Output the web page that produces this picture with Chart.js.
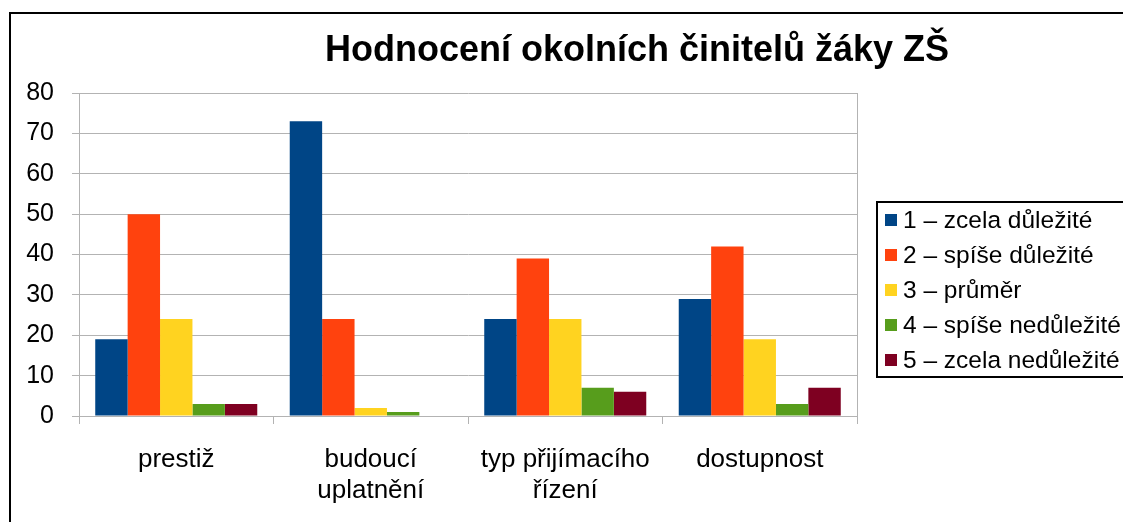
<!DOCTYPE html>
<html>
<head>
<meta charset="utf-8">
<script src="https://cdn.jsdelivr.net/npm/chart.js@4/dist/chart.umd.min.js"></script>
<style>
  body { margin: 0; background: #fff; overflow: hidden; }
  #wrap { position: relative; width: 1123px; height: 522px; overflow: hidden; }
  #frame { position: absolute; left: 9px; top: 12px; width: 2000px; height: 2000px;
           border-left: 2px solid #000; border-top: 2px solid #000; }
  canvas { position: absolute; left: 0; top: 0; }
</style>
</head>
<body>
<div id="wrap">
  <div id="frame"></div>
  <canvas id="chart" width="1123" height="522"></canvas>
</div>
<script>
// data
const TITLE = 'Hodnocení okolních činitelů žáky ZŠ';
const categories = ['prestiž', ['budoucí', 'uplatnění'], ['typ přijímacího', 'řízení'], 'dostupnost'];
const seriesNames = ['1 – zcela důležité', '2 – spíše důležité', '3 – průměr', '4 – spíše nedůležité', '5 – zcela nedůležité'];
const zcelaDulezite = [19, 73, 24, 29];
const spiseDulezite = [50, 24, 39, 42];
const prumer = [24, 2, 24, 19];
const spiseNedulezite = [3, 1, 7, 3];
const zcelaNedulezite = [3, 0, 6, 7];
const yTicks = [0, 10, 20, 30, 40, 50, 60, 70, 80];

const colors = ['#004586', '#ff420e', '#ffd320', '#579d1c', '#7e0021'];
const GRID = '#b3b3b3';
const FONT = '"Liberation Sans", Arial, sans-serif';

// titulek a legenda kreslene rucne (pozice jako v originalu)
const decorPlugin = {
  id: 'decor',
  afterDraw(chart) {
    const ctx = chart.ctx;
    ctx.save();
    ctx.fillStyle = '#000';
    ctx.font = 'bold 36px ' + FONT;
    ctx.textAlign = 'center';
    ctx.textBaseline = 'alphabetic';
    ctx.fillText(TITLE, 637, 61);

    // legenda
    ctx.lineWidth = 2;
    ctx.strokeStyle = '#000';
    ctx.strokeRect(877, 202, 300, 175);
    ctx.font = '24.5px ' + FONT;
    ctx.textAlign = 'left';
    ctx.textBaseline = 'middle';
    chart.data.datasets.forEach((ds, i) => {
      const cy = 220 + i * 35;
      ctx.fillStyle = ds.backgroundColor;
      ctx.fillRect(885, cy - 6, 12, 12);
      ctx.fillStyle = '#000';
      ctx.fillText(ds.label, 903, cy + 1);
    });
    ctx.restore();
  }
};

const values = [zcelaDulezite, spiseDulezite, prumer, spiseNedulezite, zcelaNedulezite];

new Chart(document.getElementById('chart'), {
  type: 'bar',
  data: {
    labels: categories,
    datasets: values.map((v, i) => ({
      label: seriesNames[i],
      data: v,
      backgroundColor: colors[i],
      borderWidth: 0
    }))
  },
  options: {
    responsive: false,
    devicePixelRatio: 1,
    animation: false,
    categoryPercentage: 0.833,
    barPercentage: 1,
    layout: { padding: { left: 0, right: 266, top: 93, bottom: 0 } },
    plugins: {
      legend: { display: false },
      title: { display: false },
      tooltip: { enabled: false }
    },
    scales: {
      x: {
        afterFit: s => { s.height = 106; },
        grid: {
          offset: true,
          color: c => (c.tick === undefined || c.index === 0) ? GRID : 'transparent',
          tickColor: GRID,
          tickLength: 8,
          lineWidth: 1
        },
        border: { display: true, color: GRID },
        ticks: {
          color: '#000',
          font: { family: FONT, size: 26, lineHeight: 1.2 },
          padding: 20,
          maxRotation: 0,
          autoSkip: false
        }
      },
      y: {
        min: 0,
        max: 80,
        afterFit: s => { s.width = 79; },
        afterBuildTicks: s => { s.ticks = yTicks.map(v => ({ value: v })); },
        grid: { color: GRID, tickColor: GRID, tickLength: 7, lineWidth: 1 },
        border: { display: true, color: GRID },
        ticks: {
          color: '#000',
          font: { family: FONT, size: 25 },
          padding: 18
        }
      }
    }
  },
  plugins: [decorPlugin]
});
</script>
</body>
</html>
